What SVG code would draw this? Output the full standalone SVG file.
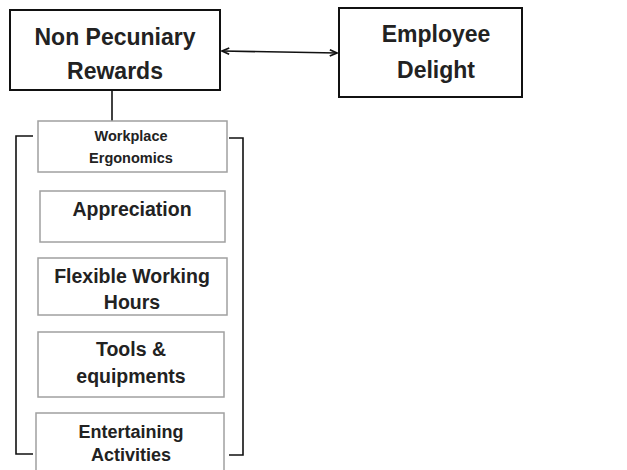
<svg xmlns="http://www.w3.org/2000/svg" width="627" height="470" viewBox="0 0 627 470">
<style>
.big{fill:#fff;stroke:#111;stroke-width:2}
.sm{fill:#fff;stroke:#a0a0a0;stroke-width:1.5}
.ln{fill:none;stroke:#111;stroke-width:1.6}
text{font-family:"Liberation Sans",Arial,sans-serif;font-weight:bold;fill:#222;text-anchor:middle}
.t1{font-size:23px}
.t2{font-size:19.5px}
.t3{font-size:14.5px}
.t4{font-size:18px}
</style>
<defs>
<marker id="ah" viewBox="0 0 10 10" refX="9" refY="5" markerWidth="9" markerHeight="9" orient="auto-start-reverse" markerUnits="userSpaceOnUse">
<path d="M1,1.5 L9,5 L1,8.5" fill="none" stroke="#111" stroke-width="2"/>
</marker>
</defs>
<g id="connectors">
<line class="ln" x1="222" y1="51" x2="337" y2="53" marker-start="url(#ah)" marker-end="url(#ah)"/>
<line class="ln" x1="112" y1="91" x2="112" y2="121"/>
<polyline class="ln" points="33,136 16,136 16,454 33,454"/>
<polyline class="ln" points="229,138 243,138 243,455 229,455"/>
</g>
<g id="non-pecuniary">
<rect class="big" x="10" y="10" width="210" height="80"/>
<text class="t1" x="115" y="45">Non Pecuniary</text>
<text class="t1" x="115" y="79">Rewards</text>
</g>
<g id="employee-delight">
<rect class="big" x="339" y="8" width="183" height="89"/>
<text class="t1" x="436" y="42">Employee</text>
<text class="t1" x="436" y="78">Delight</text>
</g>
<g id="workplace">
<rect class="sm" x="38" y="121" width="189" height="51"/>
<text class="t3" x="131" y="141">Workplace</text>
<text class="t3" x="131" y="163">Ergonomics</text>
</g>
<g id="appreciation">
<rect class="sm" x="40" y="191" width="185" height="51"/>
<text class="t2" x="132" y="216">Appreciation</text>
</g>
<g id="flexible">
<rect class="sm" x="38" y="258" width="189" height="57"/>
<text class="t2" x="132" y="283">Flexible Working</text>
<text class="t2" x="132" y="309">Hours</text>
</g>
<g id="tools">
<rect class="sm" x="38" y="332" width="186" height="65"/>
<text class="t2" x="131" y="356">Tools &amp;</text>
<text class="t2" x="131" y="383">equipments</text>
</g>
<g id="entertaining">
<rect class="sm" x="36" y="413" width="188" height="60"/>
<text class="t4" x="131" y="438">Entertaining</text>
<text class="t4" x="131" y="461">Activities</text>
</g>
</svg>
